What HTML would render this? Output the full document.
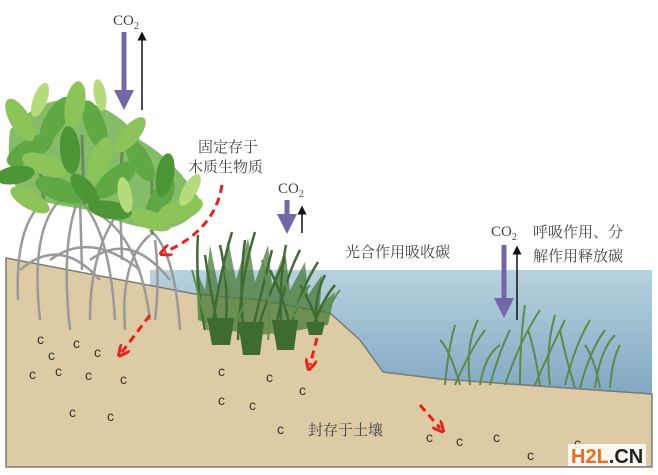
<!DOCTYPE html>
<html><head><meta charset="utf-8"><style>
html,body{margin:0;padding:0;background:#fff;width:658px;height:475px;overflow:hidden}
svg{display:block}
text{font-family:"Liberation Serif","Noto Serif CJK SC",serif;fill:#444}
.c{font-family:"Liberation Sans",sans-serif;font-size:14px;fill:#3a3328}
</style></head><body>
<svg width="658" height="475" viewBox="0 0 658 475" xmlns="http://www.w3.org/2000/svg">
<defs>
<linearGradient id="w" x1="0" y1="0" x2="0" y2="1"><stop offset="0" stop-color="#b8d2de"/><stop offset="1" stop-color="#7ea6c2"/></linearGradient>
<marker id="pa" markerWidth="4" markerHeight="4" refX="2" refY="2" orient="auto" markerUnits="strokeWidth"><path d="M0,0 L4,2 L0,4 Z" fill="#7467a8"/></marker>
<marker id="ba" markerWidth="6" markerHeight="6" refX="3" refY="3" orient="auto" markerUnits="strokeWidth"><path d="M0,0 L6,3 L0,6 Z" fill="#111"/></marker>
<marker id="ra" markerWidth="4" markerHeight="4" refX="2" refY="2" orient="auto" markerUnits="strokeWidth"><path d="M0,0 L4,2 L0,4" fill="none" stroke="#e8231c" stroke-width="1"/></marker>
</defs>
<rect x="150" y="270" width="502" height="130" fill="url(#w)"/>
<path d="M6,258 L195,294 L260,300 L330,313 L360,340 L383,372 L440,379 L652,394 L652,467 L6,467 Z" fill="#dccba4" stroke="#7a7a7a" stroke-width="1.5"/>
<g fill="none" stroke="#9a9a9a" stroke-width="2.5">
<path d="M40,205 Q15,230 18,300"/><path d="M60,200 Q30,230 40,320"/><path d="M80,195 Q60,240 70,330"/>
<path d="M80,200 Q110,230 115,320"/><path d="M100,215 Q140,240 150,320"/><path d="M120,210 Q90,250 90,320"/>
<path d="M150,230 Q175,250 180,330"/><path d="M150,235 Q120,260 125,330"/><path d="M155,240 Q160,280 155,320"/>
<path d="M50,260 Q90,230 140,270"/><path d="M90,260 Q130,230 170,280"/><path d="M20,270 Q60,235 100,280"/>
<path d="M80,200 L82,270"/><path d="M120,200 L122,260"/>
</g>
<g>
<path d="M10,130 Q40,95 80,100 Q120,110 140,140 Q175,160 200,200 Q195,225 160,230 Q120,225 90,210 Q50,205 20,195 Q5,170 10,130 Z" fill="#6fb04c" opacity="0.85"/>
<path d="M82,135 L84,205 M122,150 L120,215 M152,180 L152,235 M40,170 L45,210" stroke="#6a8a5a" stroke-width="3"/>
<g fill="#5fa843">
<ellipse cx="30" cy="150" rx="26" ry="11" transform="rotate(-30 30 150)"/>
<ellipse cx="55" cy="120" rx="26" ry="10" transform="rotate(-60 55 120)"/>
<ellipse cx="95" cy="125" rx="26" ry="10" transform="rotate(-110 95 125)"/>
<ellipse cx="115" cy="180" rx="26" ry="11" transform="rotate(-40 115 180)"/>
<ellipse cx="60" cy="190" rx="26" ry="11" transform="rotate(20 60 190)"/>
<ellipse cx="160" cy="200" rx="24" ry="10" transform="rotate(-60 160 200)"/>
<ellipse cx="140" cy="160" rx="24" ry="10" transform="rotate(-120 140 160)"/>
</g>
<g fill="#8cc45a">
<ellipse cx="20" cy="120" rx="24" ry="10" transform="rotate(-120 20 120)"/>
<ellipse cx="75" cy="105" rx="24" ry="10" transform="rotate(-80 75 105)"/>
<ellipse cx="45" cy="165" rx="24" ry="10" transform="rotate(-160 45 165)"/>
<ellipse cx="100" cy="160" rx="24" ry="10" transform="rotate(-70 100 160)"/>
<ellipse cx="130" cy="135" rx="22" ry="9" transform="rotate(-50 130 135)"/>
<ellipse cx="180" cy="210" rx="24" ry="11" transform="rotate(-20 180 210)"/>
<ellipse cx="150" cy="220" rx="22" ry="9" transform="rotate(20 150 220)"/>
<ellipse cx="30" cy="200" rx="22" ry="9" transform="rotate(30 30 200)"/>
</g>
<g fill="#4d9636">
<ellipse cx="70" cy="150" rx="24" ry="10" transform="rotate(-95 70 150)"/>
<ellipse cx="110" cy="210" rx="22" ry="9" transform="rotate(10 110 210)"/>
<ellipse cx="165" cy="175" rx="22" ry="9" transform="rotate(-80 165 175)"/>
<ellipse cx="15" cy="175" rx="20" ry="9" transform="rotate(-10 15 175)"/>
<ellipse cx="85" cy="190" rx="20" ry="9" transform="rotate(-130 85 190)"/>
</g>
<g fill="#b5db7a">
<ellipse cx="40" cy="100" rx="18" ry="7" transform="rotate(-70 40 100)"/>
<ellipse cx="125" cy="195" rx="18" ry="7" transform="rotate(-100 125 195)"/>
<ellipse cx="190" cy="190" rx="18" ry="7" transform="rotate(-60 190 190)"/>
<ellipse cx="100" cy="95" rx="16" ry="6" transform="rotate(-100 100 95)"/>
</g>
</g>
<!-- grass clumps -->
<path d="M198,320 L196,270 L205,290 L210,245 L218,285 L228,240 L236,280 L248,238 L255,282 L268,245 L272,285 L285,250 L290,290 L305,262 L308,295 L322,275 L320,305 L335,292 L328,325 L300,330 L260,335 L225,330 Z" fill="#4a7a3a" opacity="0.75"/>
<g stroke="#3f6b34" stroke-width="2.5" fill="none">
<path d="M205,330 Q195,280 198,235 M212,330 Q218,280 232,232 M220,335 Q210,290 205,255 M225,335 Q230,290 220,245"/>
<path d="M238,340 Q240,280 255,232 M245,340 Q238,290 245,240 M250,340 Q262,290 272,250 M255,340 Q265,300 285,260"/>
<path d="M275,335 Q282,285 300,250 M282,335 Q278,285 286,245 M288,335 Q300,290 318,262 M292,335 Q285,300 270,270"/>
<path d="M312,330 Q322,300 335,285 M316,330 Q314,295 325,275 M320,330 Q310,300 300,285"/>
</g>
<g stroke="#5f8f4a" stroke-width="2" fill="none">
<path d="M208,330 Q200,300 192,270 M230,335 Q245,300 260,280 M248,340 Q230,300 225,270 M268,340 Q272,300 262,260 M285,335 Q295,305 310,285 M300,330 Q290,305 285,280 M322,330 Q328,305 340,290"/>
</g>
<g fill="#3d6b30">
<path d="M207,318 L234,318 L230,345 L212,345 Z"/><path d="M238,322 L264,322 L260,355 L243,355 Z"/>
<path d="M272,320 L298,320 L294,350 L277,350 Z"/><path d="M306,322 L325,322 L322,335 L309,335 Z"/>
</g>
<g stroke="#5c8a4a" stroke-width="2" fill="none">
<path d="M445,385 Q448,350 455,325 M455,385 Q470,350 485,330 M470,385 Q465,345 478,320 M490,385 Q500,350 510,330 M505,385 Q520,340 540,310 M520,385 Q520,340 525,305 M535,385 Q550,350 565,320 M550,385 Q545,350 555,315 M565,385 Q575,345 590,320 M580,388 Q590,350 605,330 M595,388 Q600,350 615,335 M610,388 Q612,360 620,345 M460,385 Q450,350 440,340 M575,388 Q565,355 560,330 M480,385 Q485,355 500,345 M540,386 Q535,350 528,330 M600,388 Q595,360 585,345"/>
</g>
<line x1="124" y1="32" x2="124" y2="100" stroke="#7467a8" stroke-width="5" marker-end="url(#pa)"/>
<line x1="142" y1="110" x2="142" y2="36" stroke="#111" stroke-width="1.5" marker-end="url(#ba)"/>
<line x1="287" y1="200" x2="287" y2="224" stroke="#7467a8" stroke-width="5" marker-end="url(#pa)"/>
<line x1="302" y1="233" x2="302" y2="210" stroke="#111" stroke-width="1.5" marker-end="url(#ba)"/>
<line x1="504" y1="245" x2="504" y2="308" stroke="#7467a8" stroke-width="5" marker-end="url(#pa)"/>
<line x1="517" y1="320" x2="517" y2="250" stroke="#111" stroke-width="1.5" marker-end="url(#ba)"/>
<g stroke="#e8231c" stroke-width="3" fill="none" stroke-dasharray="8,5">
<path d="M222,185 Q215,230 165,252" marker-end="url(#ra)"/>
<path d="M150,315 L122,352" marker-end="url(#ra)"/>
<path d="M317,338 L310,365" marker-end="url(#ra)"/>
<path d="M420,405 L440,428" marker-end="url(#ra)"/>
</g>
<text x="113" y="25" font-size="15">CO<tspan font-size="10" dy="4">2</tspan></text>
<text x="198" y="152" font-size="15">固定存于</text>
<text x="188" y="172" font-size="15">木质生物质</text>
<text x="278" y="193" font-size="15">CO<tspan font-size="10" dy="4">2</tspan></text>
<text x="345" y="257" font-size="15">光合作用吸收碳</text>
<text x="491" y="236" font-size="15">CO<tspan font-size="10" dy="4">2</tspan></text>
<text x="533" y="237" font-size="15">呼吸作用、分</text>
<text x="533" y="261" font-size="15">解作用释放碳</text>
<text x="308" y="435" font-size="15">封存于土壤</text>
<g>
<text class="c" x="37" y="344">c</text><text class="c" x="73" y="348">c</text><text class="c" x="48" y="360">c</text><text class="c" x="94" y="357">c</text>
<text class="c" x="29" y="379">c</text><text class="c" x="55" y="376">c</text><text class="c" x="85" y="380">c</text><text class="c" x="120" y="384">c</text>
<text class="c" x="69" y="417">c</text><text class="c" x="107" y="421">c</text>
<text class="c" x="218" y="376">c</text><text class="c" x="266" y="382">c</text><text class="c" x="299" y="395">c</text>
<text class="c" x="218" y="405">c</text><text class="c" x="249" y="410">c</text><text class="c" x="277" y="434">c</text>
<text class="c" x="426" y="442">c</text><text class="c" x="456" y="446">c</text><text class="c" x="493" y="442">c</text><text class="c" x="527" y="460">c</text><text class="c" x="574" y="448">c</text>
</g>
<rect x="568" y="444" width="78" height="22" fill="#fff" opacity="0.85"/>
<text x="571" y="463" font-weight="bold" font-size="20" style="fill:#f26a1b;font-family:'Liberation Sans',sans-serif">H2L<tspan style="fill:#222">.CN</tspan></text>
</svg>
</body></html>
